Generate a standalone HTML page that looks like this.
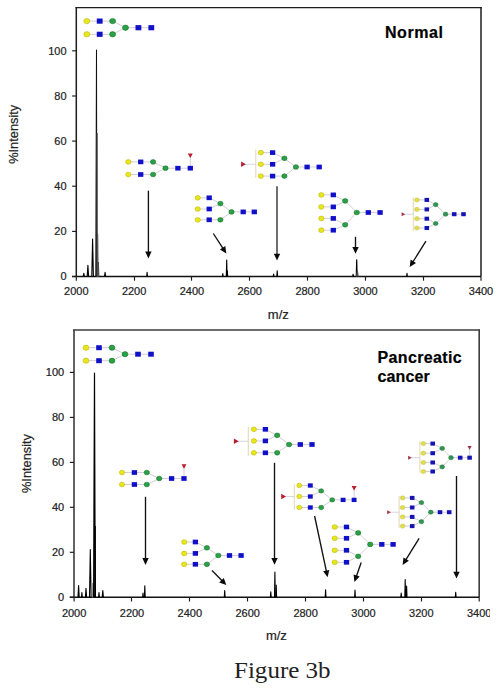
<!DOCTYPE html><html><head><meta charset="utf-8"><style>html,body{margin:0;padding:0;background:#fff;}svg{display:block;}text{font-family:"Liberation Sans", sans-serif;fill:#222;stroke:#222;stroke-width:0.2px;}</style></head><body>
<svg width="502" height="690" viewBox="0 0 502 690">
<rect width="502" height="690" fill="#fff"/>
<defs><clipPath id="clip3400"><rect x="0" y="0" width="490" height="690"/></clipPath></defs>
<line x1="76.3" y1="276.5" x2="76.3" y2="7.0" stroke="#1e1e1e" stroke-width="1.5"/>
<line x1="481.0" y1="276.5" x2="481.0" y2="7.0" stroke="#1e1e1e" stroke-width="1.5"/>
<line x1="75.55" y1="7.6" x2="481.75" y2="7.6" stroke="#1e1e1e" stroke-width="1.2"/>
<line x1="72.1" y1="276.5" x2="481.0" y2="276.5" stroke="#111" stroke-width="1.4"/>
<line x1="72.1" y1="276.5" x2="76.3" y2="276.5" stroke="#1c1c1c" stroke-width="1.15"/>
<text transform="translate(66.5,280.2) scale(1.1,1)" text-anchor="end" font-size="10">0</text>
<line x1="72.1" y1="231.4" x2="76.3" y2="231.4" stroke="#1c1c1c" stroke-width="1.15"/>
<text transform="translate(66.5,235.1) scale(1.1,1)" text-anchor="end" font-size="10">20</text>
<line x1="72.1" y1="186.2" x2="76.3" y2="186.2" stroke="#1c1c1c" stroke-width="1.15"/>
<text transform="translate(66.5,189.9) scale(1.1,1)" text-anchor="end" font-size="10">40</text>
<line x1="72.1" y1="141.1" x2="76.3" y2="141.1" stroke="#1c1c1c" stroke-width="1.15"/>
<text transform="translate(66.5,144.8) scale(1.1,1)" text-anchor="end" font-size="10">60</text>
<line x1="72.1" y1="96.0" x2="76.3" y2="96.0" stroke="#1c1c1c" stroke-width="1.15"/>
<text transform="translate(66.5,99.7) scale(1.1,1)" text-anchor="end" font-size="10">80</text>
<line x1="72.1" y1="50.8" x2="76.3" y2="50.8" stroke="#1c1c1c" stroke-width="1.15"/>
<text transform="translate(66.5,54.5) scale(1.1,1)" text-anchor="end" font-size="10">100</text>
<line x1="76.3" y1="276.5" x2="76.3" y2="280.7" stroke="#1c1c1c" stroke-width="1.15"/>
<text transform="translate(76.3,295.2) scale(1.1,1)" text-anchor="middle" font-size="10">2000</text>
<line x1="134.5" y1="276.5" x2="134.5" y2="280.7" stroke="#1c1c1c" stroke-width="1.15"/>
<text transform="translate(134.1,295.2) scale(1.1,1)" text-anchor="middle" font-size="10">2200</text>
<line x1="191.5" y1="276.5" x2="191.5" y2="280.7" stroke="#1c1c1c" stroke-width="1.15"/>
<text transform="translate(191.9,295.2) scale(1.1,1)" text-anchor="middle" font-size="10">2400</text>
<line x1="249.5" y1="276.5" x2="249.5" y2="280.7" stroke="#1c1c1c" stroke-width="1.15"/>
<text transform="translate(249.7,295.2) scale(1.1,1)" text-anchor="middle" font-size="10">2600</text>
<line x1="307.5" y1="276.5" x2="307.5" y2="280.7" stroke="#1c1c1c" stroke-width="1.15"/>
<text transform="translate(307.6,295.2) scale(1.1,1)" text-anchor="middle" font-size="10">2800</text>
<line x1="365.5" y1="276.5" x2="365.5" y2="280.7" stroke="#1c1c1c" stroke-width="1.15"/>
<text transform="translate(365.4,295.2) scale(1.1,1)" text-anchor="middle" font-size="10">3000</text>
<line x1="423.5" y1="276.5" x2="423.5" y2="280.7" stroke="#1c1c1c" stroke-width="1.15"/>
<text transform="translate(423.2,295.2) scale(1.1,1)" text-anchor="middle" font-size="10">3200</text>
<line x1="481.0" y1="276.5" x2="481.0" y2="280.7" stroke="#1c1c1c" stroke-width="1.15"/>
<text transform="translate(481.0,295.2) scale(1.1,1)" text-anchor="middle" font-size="10">3400</text>
<text x="267.8" y="319.0" font-size="13">m/z</text>
<text transform="translate(17.6,134.3) rotate(-90)" text-anchor="middle" font-size="12.8">%Intensity</text>
<text x="385" y="37.9" font-size="16" font-weight="bold" letter-spacing="0.55" style="fill:#000;stroke:#000">Normal</text>
<polygon points="96.4,276.3 96.6,233.8 98.3,233.8 98.9,276.3" fill="#808080"/>
<path d="M83.2,276.5 L83.8,273.3 L84.4,276.5" fill="none" stroke="#000" stroke-width="1.1" stroke-linejoin="round"/>
<path d="M87.2,276.5 L87.9,265.3 L88.6,276.5" fill="none" stroke="#000" stroke-width="1.1" stroke-linejoin="round"/>
<path d="M91.8,276.5 L92.6,239.0 L93.4,276.5" fill="none" stroke="#000" stroke-width="1.1" stroke-linejoin="round"/>
<path d="M95.8,276.5 L96.5,50.0 L96.8,276.5" fill="none" stroke="#111" stroke-width="1.05" stroke-linejoin="round"/>
<path d="M97.0,276.5 L97.2,133.0 L97.4,276.5" fill="none" stroke="#555" stroke-width="0.8" stroke-linejoin="round"/>
<path d="M97.9,276.5 L98.4,262.0 L98.9,276.5" fill="none" stroke="#444" stroke-width="0.9" stroke-linejoin="round"/>
<path d="M104.5,276.5 L105.1,272.3 L105.7,276.5" fill="none" stroke="#000" stroke-width="1.1" stroke-linejoin="round"/>
<path d="M146.7,276.5 L147.1,272.3 L147.5,276.5" fill="none" stroke="#000" stroke-width="1.1" stroke-linejoin="round"/>
<path d="M222.4,276.5 L222.8,273.6 L223.2,276.5" fill="none" stroke="#000" stroke-width="1.1" stroke-linejoin="round"/>
<path d="M226.3,276.5 L226.7,260.0 L227.1,276.5" fill="none" stroke="#000" stroke-width="1.1" stroke-linejoin="round"/>
<path d="M226.9,276.5 L227.3,270.8 L227.7,276.5" fill="none" stroke="#000" stroke-width="1.1" stroke-linejoin="round"/>
<path d="M273.2,276.5 L273.6,274.0 L274.0,276.5" fill="none" stroke="#000" stroke-width="1.1" stroke-linejoin="round"/>
<path d="M276.8,276.5 L277.2,270.8 L277.6,276.5" fill="none" stroke="#000" stroke-width="1.1" stroke-linejoin="round"/>
<path d="M352.7,276.5 L353.1,274.2 L353.5,276.5" fill="none" stroke="#000" stroke-width="1.1" stroke-linejoin="round"/>
<path d="M356.3,276.5 L356.7,259.8 L357.1,276.5" fill="none" stroke="#000" stroke-width="1.2" stroke-linejoin="round"/>
<path d="M356.6,276.5 L357.4,271.0 L358.2,276.5" fill="none" stroke="#555" stroke-width="1.2" stroke-linejoin="round"/>
<path d="M406.6,276.5 L407.0,273.4 L407.4,276.5" fill="none" stroke="#000" stroke-width="1.1" stroke-linejoin="round"/>
<line x1="86.8" y1="21.1" x2="99.7" y2="21.1" stroke="#c6bcc4" stroke-width="0.75"/>
<line x1="99.7" y1="21.1" x2="112.6" y2="21.1" stroke="#c6bcc4" stroke-width="0.75"/>
<line x1="86.8" y1="34.3" x2="99.7" y2="34.3" stroke="#c6bcc4" stroke-width="0.75"/>
<line x1="99.7" y1="34.3" x2="112.6" y2="34.3" stroke="#c6bcc4" stroke-width="0.75"/>
<line x1="112.6" y1="21.1" x2="125.5" y2="27.7" stroke="#c6bcc4" stroke-width="0.75"/>
<line x1="112.6" y1="34.3" x2="125.5" y2="27.7" stroke="#c6bcc4" stroke-width="0.75"/>
<line x1="125.5" y1="27.7" x2="138.4" y2="27.7" stroke="#c6bcc4" stroke-width="0.75"/>
<line x1="138.4" y1="27.7" x2="151.3" y2="27.7" stroke="#c6bcc4" stroke-width="0.75"/>

<ellipse cx="86.8" cy="21.1" rx="3.02" ry="2.68" fill="#e8e61e" stroke="#b8b000" stroke-width="0.5"/>
<ellipse cx="86.8" cy="34.3" rx="3.02" ry="2.68" fill="#e8e61e" stroke="#b8b000" stroke-width="0.5"/>
<rect x="96.78" y="18.52" width="5.83" height="5.17" fill="#1010c8"/>
<rect x="96.78" y="31.71" width="5.83" height="5.17" fill="#1010c8"/>
<ellipse cx="112.6" cy="21.1" rx="3.02" ry="2.68" fill="#2aa048" stroke="#107020" stroke-width="0.5"/>
<ellipse cx="112.6" cy="34.3" rx="3.02" ry="2.68" fill="#2aa048" stroke="#107020" stroke-width="0.5"/>
<ellipse cx="125.5" cy="27.7" rx="3.02" ry="2.68" fill="#2aa048" stroke="#107020" stroke-width="0.5"/>
<rect x="135.49" y="25.12" width="5.83" height="5.17" fill="#1010c8"/>
<rect x="148.39" y="25.12" width="5.83" height="5.17" fill="#1010c8"/>
<line x1="128.3" y1="161.9" x2="140.7" y2="161.9" stroke="#c6bcc4" stroke-width="0.75"/>
<line x1="140.7" y1="161.9" x2="153.1" y2="161.9" stroke="#c6bcc4" stroke-width="0.75"/>
<line x1="128.3" y1="174.5" x2="140.7" y2="174.5" stroke="#c6bcc4" stroke-width="0.75"/>
<line x1="140.7" y1="174.5" x2="153.1" y2="174.5" stroke="#c6bcc4" stroke-width="0.75"/>
<line x1="153.1" y1="161.9" x2="165.5" y2="168.2" stroke="#c6bcc4" stroke-width="0.75"/>
<line x1="153.1" y1="174.5" x2="165.5" y2="168.2" stroke="#c6bcc4" stroke-width="0.75"/>
<line x1="165.5" y1="168.2" x2="177.9" y2="168.2" stroke="#c6bcc4" stroke-width="0.75"/>
<line x1="177.9" y1="168.2" x2="190.3" y2="168.2" stroke="#c6bcc4" stroke-width="0.75"/>
<line x1="190.3" y1="168.2" x2="190.3" y2="155.6" stroke="#c6bcc4" stroke-width="0.75"/>

<ellipse cx="128.3" cy="161.9" rx="2.65" ry="2.35" fill="#e8e61e" stroke="#b8b000" stroke-width="0.5"/>
<ellipse cx="128.3" cy="174.5" rx="2.65" ry="2.35" fill="#e8e61e" stroke="#b8b000" stroke-width="0.5"/>
<rect x="138.05" y="159.55" width="5.30" height="4.70" fill="#1010c8"/>
<rect x="138.05" y="172.15" width="5.30" height="4.70" fill="#1010c8"/>
<ellipse cx="153.1" cy="161.9" rx="2.65" ry="2.35" fill="#2aa048" stroke="#107020" stroke-width="0.5"/>
<ellipse cx="153.1" cy="174.5" rx="2.65" ry="2.35" fill="#2aa048" stroke="#107020" stroke-width="0.5"/>
<ellipse cx="165.5" cy="168.2" rx="2.65" ry="2.35" fill="#2aa048" stroke="#107020" stroke-width="0.5"/>
<rect x="175.25" y="165.85" width="5.30" height="4.70" fill="#1010c8"/>
<rect x="187.65" y="165.85" width="5.30" height="4.70" fill="#1010c8"/>
<polygon points="187.8,153.4 192.8,153.4 190.3,157.9" fill="#bb1c2e"/>
<line x1="197.7" y1="197.8" x2="209.2" y2="197.8" stroke="#c6bcc4" stroke-width="0.75"/>
<line x1="197.7" y1="209.0" x2="209.2" y2="209.0" stroke="#c6bcc4" stroke-width="0.75"/>
<line x1="197.7" y1="219.8" x2="209.2" y2="219.8" stroke="#c6bcc4" stroke-width="0.75"/>
<line x1="209.2" y1="197.8" x2="220.4" y2="203.6" stroke="#c6bcc4" stroke-width="0.75"/>
<line x1="209.2" y1="209.0" x2="220.4" y2="203.6" stroke="#c6bcc4" stroke-width="0.75"/>
<line x1="209.2" y1="219.8" x2="220.4" y2="219.8" stroke="#c6bcc4" stroke-width="0.75"/>
<line x1="220.4" y1="203.6" x2="231.5" y2="211.9" stroke="#c6bcc4" stroke-width="0.75"/>
<line x1="220.4" y1="219.8" x2="231.5" y2="211.9" stroke="#c6bcc4" stroke-width="0.75"/>
<line x1="231.5" y1="211.9" x2="243.2" y2="211.9" stroke="#c6bcc4" stroke-width="0.75"/>
<line x1="243.2" y1="211.9" x2="254.3" y2="211.9" stroke="#c6bcc4" stroke-width="0.75"/>

<ellipse cx="197.7" cy="197.8" rx="2.65" ry="2.35" fill="#e8e61e" stroke="#b8b000" stroke-width="0.5"/>
<rect x="206.55" y="195.45" width="5.30" height="4.70" fill="#1010c8"/>
<ellipse cx="197.7" cy="209.0" rx="2.65" ry="2.35" fill="#e8e61e" stroke="#b8b000" stroke-width="0.5"/>
<rect x="206.55" y="206.65" width="5.30" height="4.70" fill="#1010c8"/>
<ellipse cx="197.7" cy="219.8" rx="2.65" ry="2.35" fill="#e8e61e" stroke="#b8b000" stroke-width="0.5"/>
<rect x="206.55" y="217.45" width="5.30" height="4.70" fill="#1010c8"/>
<ellipse cx="220.4" cy="203.6" rx="2.65" ry="2.35" fill="#2aa048" stroke="#107020" stroke-width="0.5"/>
<ellipse cx="220.4" cy="219.8" rx="2.65" ry="2.35" fill="#2aa048" stroke="#107020" stroke-width="0.5"/>
<ellipse cx="231.5" cy="211.9" rx="2.65" ry="2.35" fill="#2aa048" stroke="#107020" stroke-width="0.5"/>
<rect x="240.55" y="209.55" width="5.30" height="4.70" fill="#1010c8"/>
<rect x="251.65" y="209.55" width="5.30" height="4.70" fill="#1010c8"/>
<line x1="260.8" y1="152.6" x2="272.6" y2="152.6" stroke="#c6bcc4" stroke-width="0.75"/>
<line x1="260.8" y1="164.3" x2="272.6" y2="164.3" stroke="#c6bcc4" stroke-width="0.75"/>
<line x1="260.8" y1="176.1" x2="272.6" y2="176.1" stroke="#c6bcc4" stroke-width="0.75"/>
<line x1="272.6" y1="152.6" x2="284.4" y2="158.3" stroke="#c6bcc4" stroke-width="0.75"/>
<line x1="272.6" y1="164.3" x2="284.4" y2="158.3" stroke="#c6bcc4" stroke-width="0.75"/>
<line x1="272.6" y1="176.1" x2="284.4" y2="176.1" stroke="#c6bcc4" stroke-width="0.75"/>
<line x1="284.4" y1="158.3" x2="295.9" y2="167.0" stroke="#c6bcc4" stroke-width="0.75"/>
<line x1="284.4" y1="176.1" x2="295.9" y2="167.0" stroke="#c6bcc4" stroke-width="0.75"/>
<line x1="295.9" y1="167.0" x2="307.1" y2="167.0" stroke="#c6bcc4" stroke-width="0.75"/>
<line x1="307.1" y1="167.0" x2="319.2" y2="167.0" stroke="#c6bcc4" stroke-width="0.75"/>
<line x1="255.8" y1="149.7" x2="255.8" y2="178.1" stroke="#d4c498" stroke-width="0.7"/><line x1="243.5" y1="164.3" x2="255.8" y2="164.3" stroke="#c4c4dc" stroke-width="0.7"/>
<ellipse cx="260.8" cy="152.6" rx="2.65" ry="2.35" fill="#e8e61e" stroke="#b8b000" stroke-width="0.5"/>
<rect x="269.95" y="150.25" width="5.30" height="4.70" fill="#1010c8"/>
<ellipse cx="260.8" cy="164.3" rx="2.65" ry="2.35" fill="#e8e61e" stroke="#b8b000" stroke-width="0.5"/>
<rect x="269.95" y="161.95" width="5.30" height="4.70" fill="#1010c8"/>
<ellipse cx="260.8" cy="176.1" rx="2.65" ry="2.35" fill="#e8e61e" stroke="#b8b000" stroke-width="0.5"/>
<rect x="269.95" y="173.75" width="5.30" height="4.70" fill="#1010c8"/>
<ellipse cx="284.4" cy="158.3" rx="2.65" ry="2.35" fill="#2aa048" stroke="#107020" stroke-width="0.5"/>
<ellipse cx="284.4" cy="176.1" rx="2.65" ry="2.35" fill="#2aa048" stroke="#107020" stroke-width="0.5"/>
<ellipse cx="295.9" cy="167.0" rx="2.65" ry="2.35" fill="#2aa048" stroke="#107020" stroke-width="0.5"/>
<rect x="304.45" y="164.65" width="5.30" height="4.70" fill="#1010c8"/>
<rect x="316.55" y="164.65" width="5.30" height="4.70" fill="#1010c8"/>
<polygon points="241.1,161.6 241.1,167.0 245.9,164.3" fill="#bb1c2e"/>
<line x1="321.3" y1="194.9" x2="333.3" y2="194.9" stroke="#c6bcc4" stroke-width="0.75"/>
<line x1="321.3" y1="206.9" x2="333.3" y2="206.9" stroke="#c6bcc4" stroke-width="0.75"/>
<line x1="321.3" y1="218.4" x2="333.3" y2="218.4" stroke="#c6bcc4" stroke-width="0.75"/>
<line x1="321.3" y1="230.2" x2="333.3" y2="230.2" stroke="#c6bcc4" stroke-width="0.75"/>
<line x1="333.3" y1="194.9" x2="345.2" y2="200.9" stroke="#c6bcc4" stroke-width="0.75"/>
<line x1="333.3" y1="206.9" x2="345.2" y2="200.9" stroke="#c6bcc4" stroke-width="0.75"/>
<line x1="333.3" y1="218.4" x2="345.2" y2="224.8" stroke="#c6bcc4" stroke-width="0.75"/>
<line x1="333.3" y1="230.2" x2="345.2" y2="224.8" stroke="#c6bcc4" stroke-width="0.75"/>
<line x1="345.2" y1="200.9" x2="356.8" y2="212.5" stroke="#c6bcc4" stroke-width="0.75"/>
<line x1="345.2" y1="224.8" x2="356.8" y2="212.5" stroke="#c6bcc4" stroke-width="0.75"/>
<line x1="356.8" y1="212.5" x2="368.3" y2="212.5" stroke="#c6bcc4" stroke-width="0.75"/>
<line x1="368.3" y1="212.5" x2="380.1" y2="212.5" stroke="#c6bcc4" stroke-width="0.75"/>

<ellipse cx="321.3" cy="194.9" rx="2.65" ry="2.35" fill="#e8e61e" stroke="#b8b000" stroke-width="0.5"/>
<rect x="330.65" y="192.55" width="5.30" height="4.70" fill="#1010c8"/>
<ellipse cx="321.3" cy="206.9" rx="2.65" ry="2.35" fill="#e8e61e" stroke="#b8b000" stroke-width="0.5"/>
<rect x="330.65" y="204.55" width="5.30" height="4.70" fill="#1010c8"/>
<ellipse cx="321.3" cy="218.4" rx="2.65" ry="2.35" fill="#e8e61e" stroke="#b8b000" stroke-width="0.5"/>
<rect x="330.65" y="216.05" width="5.30" height="4.70" fill="#1010c8"/>
<ellipse cx="321.3" cy="230.2" rx="2.65" ry="2.35" fill="#e8e61e" stroke="#b8b000" stroke-width="0.5"/>
<rect x="330.65" y="227.85" width="5.30" height="4.70" fill="#1010c8"/>
<ellipse cx="345.2" cy="200.9" rx="2.65" ry="2.35" fill="#2aa048" stroke="#107020" stroke-width="0.5"/>
<ellipse cx="345.2" cy="224.8" rx="2.65" ry="2.35" fill="#2aa048" stroke="#107020" stroke-width="0.5"/>
<ellipse cx="356.8" cy="212.5" rx="2.65" ry="2.35" fill="#2aa048" stroke="#107020" stroke-width="0.5"/>
<rect x="365.65" y="210.15" width="5.30" height="4.70" fill="#1010c8"/>
<rect x="377.45" y="210.15" width="5.30" height="4.70" fill="#1010c8"/>
<line x1="416.9" y1="199.9" x2="426.8" y2="199.9" stroke="#c6bcc4" stroke-width="0.75"/>
<line x1="416.9" y1="209.4" x2="426.8" y2="209.4" stroke="#c6bcc4" stroke-width="0.75"/>
<line x1="416.9" y1="218.7" x2="426.8" y2="218.7" stroke="#c6bcc4" stroke-width="0.75"/>
<line x1="416.9" y1="228.0" x2="426.8" y2="228.0" stroke="#c6bcc4" stroke-width="0.75"/>
<line x1="426.8" y1="199.9" x2="435.7" y2="204.7" stroke="#c6bcc4" stroke-width="0.75"/>
<line x1="426.8" y1="209.4" x2="435.7" y2="204.7" stroke="#c6bcc4" stroke-width="0.75"/>
<line x1="426.8" y1="218.7" x2="435.7" y2="223.5" stroke="#c6bcc4" stroke-width="0.75"/>
<line x1="426.8" y1="228.0" x2="435.7" y2="223.5" stroke="#c6bcc4" stroke-width="0.75"/>
<line x1="435.7" y1="204.7" x2="445.6" y2="214.2" stroke="#c6bcc4" stroke-width="0.75"/>
<line x1="435.7" y1="223.5" x2="445.6" y2="214.2" stroke="#c6bcc4" stroke-width="0.75"/>
<line x1="445.6" y1="214.2" x2="454.2" y2="214.2" stroke="#c6bcc4" stroke-width="0.75"/>
<line x1="454.2" y1="214.2" x2="463.5" y2="214.2" stroke="#c6bcc4" stroke-width="0.75"/>
<line x1="413.3" y1="198" x2="413.3" y2="230.9" stroke="#d4c498" stroke-width="0.7"/><line x1="403.4" y1="214.2" x2="413.3" y2="214.2" stroke="#c4c4dc" stroke-width="0.7"/>
<ellipse cx="416.9" cy="199.9" rx="2.39" ry="2.11" fill="#dede52" stroke="#c8c040" stroke-width="0.5"/>
<rect x="424.52" y="197.88" width="4.56" height="4.04" fill="#1414b4"/>
<ellipse cx="416.9" cy="209.4" rx="2.39" ry="2.11" fill="#dede52" stroke="#c8c040" stroke-width="0.5"/>
<rect x="424.52" y="207.38" width="4.56" height="4.04" fill="#1414b4"/>
<ellipse cx="416.9" cy="218.7" rx="2.39" ry="2.11" fill="#dede52" stroke="#c8c040" stroke-width="0.5"/>
<rect x="424.52" y="216.68" width="4.56" height="4.04" fill="#1414b4"/>
<ellipse cx="416.9" cy="228.0" rx="2.39" ry="2.11" fill="#dede52" stroke="#c8c040" stroke-width="0.5"/>
<rect x="424.52" y="225.98" width="4.56" height="4.04" fill="#1414b4"/>
<ellipse cx="435.7" cy="204.7" rx="2.39" ry="2.11" fill="#339455" stroke="#207a3a" stroke-width="0.5"/>
<ellipse cx="435.7" cy="223.5" rx="2.39" ry="2.11" fill="#339455" stroke="#207a3a" stroke-width="0.5"/>
<ellipse cx="445.6" cy="214.2" rx="2.39" ry="2.11" fill="#339455" stroke="#207a3a" stroke-width="0.5"/>
<rect x="451.92" y="212.18" width="4.56" height="4.04" fill="#1414b4"/>
<rect x="461.22" y="212.18" width="4.56" height="4.04" fill="#1414b4"/>
<polygon points="401.6,212.2 401.6,216.2 405.2,214.2" fill="#a83040"/>
<line x1="148.4" y1="190.7" x2="148.4" y2="252.4" stroke="#111" stroke-width="1.35"/><polygon points="148.4,258.4 145.2,251.6 151.6,251.6" fill="#0a0a0a"/>
<line x1="213.3" y1="233.5" x2="223.0" y2="248.4" stroke="#111" stroke-width="1.35"/><polygon points="226.3,253.4 219.9,249.5 225.3,246.0" fill="#0a0a0a"/>
<line x1="277.0" y1="186.2" x2="277.0" y2="254.5" stroke="#6e6e6e" stroke-width="2.0"/><polygon points="277.0,260.5 273.8,253.7 280.2,253.7" fill="#0a0a0a"/>
<line x1="355.5" y1="236.8" x2="355.5" y2="247.8" stroke="#111" stroke-width="1.35"/><polygon points="355.5,253.8 352.3,247.0 358.7,247.0" fill="#0a0a0a"/>
<line x1="425.9" y1="241.1" x2="412.9" y2="262.0" stroke="#111" stroke-width="1.35"/><polygon points="409.7,267.1 410.6,259.6 416.0,263.0" fill="#0a0a0a"/>
<line x1="74.0" y1="597.3" x2="74.0" y2="329.4" stroke="#3c3c3c" stroke-width="1.6"/>
<line x1="479.2" y1="597.3" x2="479.2" y2="329.4" stroke="#3c3c3c" stroke-width="1.6"/>
<line x1="73.2" y1="330.0" x2="480.0" y2="330.0" stroke="#3c3c3c" stroke-width="1.4"/>
<line x1="69.8" y1="597.3" x2="479.2" y2="597.3" stroke="#111" stroke-width="1.4"/>
<line x1="69.8" y1="597.3" x2="74.0" y2="597.3" stroke="#1c1c1c" stroke-width="1.15"/>
<text transform="translate(64.2,601.0) scale(1.1,1)" text-anchor="end" font-size="10">0</text>
<line x1="69.8" y1="552.3" x2="74.0" y2="552.3" stroke="#1c1c1c" stroke-width="1.15"/>
<text transform="translate(64.2,556.0) scale(1.1,1)" text-anchor="end" font-size="10">20</text>
<line x1="69.8" y1="507.3" x2="74.0" y2="507.3" stroke="#1c1c1c" stroke-width="1.15"/>
<text transform="translate(64.2,511.0) scale(1.1,1)" text-anchor="end" font-size="10">40</text>
<line x1="69.8" y1="462.4" x2="74.0" y2="462.4" stroke="#1c1c1c" stroke-width="1.15"/>
<text transform="translate(64.2,466.1) scale(1.1,1)" text-anchor="end" font-size="10">60</text>
<line x1="69.8" y1="417.4" x2="74.0" y2="417.4" stroke="#1c1c1c" stroke-width="1.15"/>
<text transform="translate(64.2,421.1) scale(1.1,1)" text-anchor="end" font-size="10">80</text>
<line x1="69.8" y1="372.4" x2="74.0" y2="372.4" stroke="#1c1c1c" stroke-width="1.15"/>
<text transform="translate(64.2,376.1) scale(1.1,1)" text-anchor="end" font-size="10">100</text>
<line x1="74.1" y1="597.3" x2="74.1" y2="601.5" stroke="#1c1c1c" stroke-width="1.15"/>
<text transform="translate(74.1,616.5) scale(1.1,1)" text-anchor="middle" font-size="10">2000</text>
<line x1="131.5" y1="597.3" x2="131.5" y2="601.5" stroke="#1c1c1c" stroke-width="1.15"/>
<text transform="translate(132.0,616.5) scale(1.1,1)" text-anchor="middle" font-size="10">2200</text>
<line x1="189.5" y1="597.3" x2="189.5" y2="601.5" stroke="#1c1c1c" stroke-width="1.15"/>
<text transform="translate(189.8,616.5) scale(1.1,1)" text-anchor="middle" font-size="10">2400</text>
<line x1="247.5" y1="597.3" x2="247.5" y2="601.5" stroke="#1c1c1c" stroke-width="1.15"/>
<text transform="translate(247.7,616.5) scale(1.1,1)" text-anchor="middle" font-size="10">2600</text>
<line x1="305.5" y1="597.3" x2="305.5" y2="601.5" stroke="#1c1c1c" stroke-width="1.15"/>
<text transform="translate(305.6,616.5) scale(1.1,1)" text-anchor="middle" font-size="10">2800</text>
<line x1="363.5" y1="597.3" x2="363.5" y2="601.5" stroke="#1c1c1c" stroke-width="1.15"/>
<text transform="translate(363.5,616.5) scale(1.1,1)" text-anchor="middle" font-size="10">3000</text>
<line x1="421.5" y1="597.3" x2="421.5" y2="601.5" stroke="#1c1c1c" stroke-width="1.15"/>
<text transform="translate(421.3,616.5) scale(1.1,1)" text-anchor="middle" font-size="10">3200</text>
<line x1="479.2" y1="597.3" x2="479.2" y2="601.5" stroke="#1c1c1c" stroke-width="1.15"/>
<g clip-path="url(#clip3400)"><text transform="translate(479.2,616.5) scale(1.1,1)" text-anchor="middle" font-size="10">3400</text></g>
<text x="265.9" y="640.0" font-size="13">m/z</text>
<text transform="translate(31.4,463.5) rotate(-90)" text-anchor="middle" font-size="12.8">%Intensity</text>
<text x="377.6" y="362.5" font-size="16" font-weight="bold" letter-spacing="0.35" style="fill:#000;stroke:#000">Pancreatic</text>
<text x="377.6" y="382.4" font-size="16" font-weight="bold" letter-spacing="0.1" style="fill:#000;stroke:#000">cancer</text>
<path d="M78.0,597.3 L78.6,585.5 L79.2,597.3" fill="none" stroke="#000" stroke-width="1.1" stroke-linejoin="round"/>
<path d="M81.5,597.3 L81.9,592.5 L82.3,597.3" fill="none" stroke="#000" stroke-width="1.1" stroke-linejoin="round"/>
<path d="M85.4,597.3 L86.0,588.4 L86.6,597.3" fill="none" stroke="#000" stroke-width="1.1" stroke-linejoin="round"/>
<path d="M89.5,597.3 L90.3,549.5 L91.1,597.3" fill="none" stroke="#000" stroke-width="1.1" stroke-linejoin="round"/>
<path d="M92.4,597.3 L92.9,583.0 L93.4,597.3" fill="none" stroke="#888" stroke-width="0.9" stroke-linejoin="round"/>
<path d="M93.6,597.3 L94.5,373.0 L95.2,597.3" fill="none" stroke="#000" stroke-width="1.2" stroke-linejoin="round"/>
<path d="M94.7,597.3 L95.1,526.0 L95.5,597.3" fill="none" stroke="#000" stroke-width="1.0" stroke-linejoin="round"/>
<path d="M98.6,597.3 L99.0,592.5 L99.4,597.3" fill="none" stroke="#000" stroke-width="1.1" stroke-linejoin="round"/>
<path d="M102.2,597.3 L102.8,590.6 L103.4,597.3" fill="none" stroke="#000" stroke-width="1.1" stroke-linejoin="round"/>
<path d="M142.6,597.3 L143.0,593.0 L143.4,597.3" fill="none" stroke="#000" stroke-width="1.1" stroke-linejoin="round"/>
<path d="M144.4,597.3 L144.8,585.7 L145.2,597.3" fill="none" stroke="#000" stroke-width="1.1" stroke-linejoin="round"/>
<path d="M224.3,597.3 L224.7,590.6 L225.1,597.3" fill="none" stroke="#000" stroke-width="1.1" stroke-linejoin="round"/>
<path d="M270.4,597.3 L270.8,591.8 L271.2,597.3" fill="none" stroke="#000" stroke-width="1.1" stroke-linejoin="round"/>
<path d="M274.5,597.3 L274.9,572.0 L275.3,597.3" fill="none" stroke="#000" stroke-width="1.1" stroke-linejoin="round"/>
<path d="M275.8,597.3 L276.2,585.0 L276.6,597.3" fill="none" stroke="#000" stroke-width="1.1" stroke-linejoin="round"/>
<path d="M325.2,597.3 L325.6,589.8 L326.0,597.3" fill="none" stroke="#000" stroke-width="1.1" stroke-linejoin="round"/>
<path d="M354.6,597.3 L355.0,590.1 L355.4,597.3" fill="none" stroke="#000" stroke-width="1.1" stroke-linejoin="round"/>
<path d="M400.8,597.3 L401.2,593.0 L401.6,597.3" fill="none" stroke="#000" stroke-width="1.1" stroke-linejoin="round"/>
<path d="M404.8,597.3 L405.2,579.5 L405.6,597.3" fill="none" stroke="#000" stroke-width="1.1" stroke-linejoin="round"/>
<path d="M406.2,597.3 L406.6,586.0 L407.0,597.3" fill="none" stroke="#000" stroke-width="1.1" stroke-linejoin="round"/>
<path d="M455.3,597.3 L455.7,592.2 L456.1,597.3" fill="none" stroke="#000" stroke-width="1.1" stroke-linejoin="round"/>
<line x1="86.0" y1="347.7" x2="99.0" y2="347.7" stroke="#c6bcc4" stroke-width="0.75"/>
<line x1="99.0" y1="347.7" x2="112.0" y2="347.7" stroke="#c6bcc4" stroke-width="0.75"/>
<line x1="86.0" y1="360.7" x2="99.0" y2="360.7" stroke="#c6bcc4" stroke-width="0.75"/>
<line x1="99.0" y1="360.7" x2="112.0" y2="360.7" stroke="#c6bcc4" stroke-width="0.75"/>
<line x1="112.0" y1="347.7" x2="125.0" y2="354.2" stroke="#c6bcc4" stroke-width="0.75"/>
<line x1="112.0" y1="360.7" x2="125.0" y2="354.2" stroke="#c6bcc4" stroke-width="0.75"/>
<line x1="125.0" y1="354.2" x2="138.0" y2="354.2" stroke="#c6bcc4" stroke-width="0.75"/>
<line x1="138.0" y1="354.2" x2="151.0" y2="354.2" stroke="#c6bcc4" stroke-width="0.75"/>

<ellipse cx="86.0" cy="347.7" rx="2.92" ry="2.58" fill="#e8e61e" stroke="#b8b000" stroke-width="0.5"/>
<ellipse cx="86.0" cy="360.7" rx="2.92" ry="2.58" fill="#e8e61e" stroke="#b8b000" stroke-width="0.5"/>
<rect x="96.19" y="345.21" width="5.62" height="4.98" fill="#1010c8"/>
<rect x="96.19" y="358.21" width="5.62" height="4.98" fill="#1010c8"/>
<ellipse cx="112.0" cy="347.7" rx="2.92" ry="2.58" fill="#2aa048" stroke="#107020" stroke-width="0.5"/>
<ellipse cx="112.0" cy="360.7" rx="2.92" ry="2.58" fill="#2aa048" stroke="#107020" stroke-width="0.5"/>
<ellipse cx="125.0" cy="354.2" rx="2.92" ry="2.58" fill="#2aa048" stroke="#107020" stroke-width="0.5"/>
<rect x="135.19" y="351.71" width="5.62" height="4.98" fill="#1010c8"/>
<rect x="148.19" y="351.71" width="5.62" height="4.98" fill="#1010c8"/>
<line x1="122.0" y1="472.5" x2="134.4" y2="472.5" stroke="#c6bcc4" stroke-width="0.75"/>
<line x1="134.4" y1="472.5" x2="146.8" y2="472.5" stroke="#c6bcc4" stroke-width="0.75"/>
<line x1="122.0" y1="484.5" x2="134.4" y2="484.5" stroke="#c6bcc4" stroke-width="0.75"/>
<line x1="134.4" y1="484.5" x2="146.8" y2="484.5" stroke="#c6bcc4" stroke-width="0.75"/>
<line x1="146.8" y1="472.5" x2="159.2" y2="478.5" stroke="#c6bcc4" stroke-width="0.75"/>
<line x1="146.8" y1="484.5" x2="159.2" y2="478.5" stroke="#c6bcc4" stroke-width="0.75"/>
<line x1="159.2" y1="478.5" x2="171.6" y2="478.5" stroke="#c6bcc4" stroke-width="0.75"/>
<line x1="171.6" y1="478.5" x2="184.0" y2="478.5" stroke="#c6bcc4" stroke-width="0.75"/>
<line x1="184.0" y1="478.5" x2="184.0" y2="466.5" stroke="#c6bcc4" stroke-width="0.75"/>

<ellipse cx="122.0" cy="472.5" rx="2.65" ry="2.35" fill="#e8e61e" stroke="#b8b000" stroke-width="0.5"/>
<ellipse cx="122.0" cy="484.5" rx="2.65" ry="2.35" fill="#e8e61e" stroke="#b8b000" stroke-width="0.5"/>
<rect x="131.75" y="470.15" width="5.30" height="4.70" fill="#1010c8"/>
<rect x="131.75" y="482.15" width="5.30" height="4.70" fill="#1010c8"/>
<ellipse cx="146.8" cy="472.5" rx="2.65" ry="2.35" fill="#2aa048" stroke="#107020" stroke-width="0.5"/>
<ellipse cx="146.8" cy="484.5" rx="2.65" ry="2.35" fill="#2aa048" stroke="#107020" stroke-width="0.5"/>
<ellipse cx="159.2" cy="478.5" rx="2.65" ry="2.35" fill="#2aa048" stroke="#107020" stroke-width="0.5"/>
<rect x="168.95" y="476.15" width="5.30" height="4.70" fill="#1010c8"/>
<rect x="181.35" y="476.15" width="5.30" height="4.70" fill="#1010c8"/>
<polygon points="181.5,464.2 186.5,464.2 184.0,468.8" fill="#bb1c2e"/>
<line x1="184.2" y1="542.0" x2="195.4" y2="542.0" stroke="#c6bcc4" stroke-width="0.75"/>
<line x1="184.2" y1="553.4" x2="195.4" y2="553.4" stroke="#c6bcc4" stroke-width="0.75"/>
<line x1="184.2" y1="564.3" x2="195.4" y2="564.3" stroke="#c6bcc4" stroke-width="0.75"/>
<line x1="195.4" y1="542.0" x2="206.9" y2="547.8" stroke="#c6bcc4" stroke-width="0.75"/>
<line x1="195.4" y1="553.4" x2="206.9" y2="547.8" stroke="#c6bcc4" stroke-width="0.75"/>
<line x1="195.4" y1="564.3" x2="206.9" y2="564.3" stroke="#c6bcc4" stroke-width="0.75"/>
<line x1="206.9" y1="547.8" x2="218.3" y2="555.5" stroke="#c6bcc4" stroke-width="0.75"/>
<line x1="206.9" y1="564.3" x2="218.3" y2="555.5" stroke="#c6bcc4" stroke-width="0.75"/>
<line x1="218.3" y1="555.5" x2="229.5" y2="555.5" stroke="#c6bcc4" stroke-width="0.75"/>
<line x1="229.5" y1="555.5" x2="241.1" y2="555.5" stroke="#c6bcc4" stroke-width="0.75"/>

<ellipse cx="184.2" cy="542.0" rx="2.65" ry="2.35" fill="#e8e61e" stroke="#b8b000" stroke-width="0.5"/>
<rect x="192.75" y="539.65" width="5.30" height="4.70" fill="#1010c8"/>
<ellipse cx="184.2" cy="553.4" rx="2.65" ry="2.35" fill="#e8e61e" stroke="#b8b000" stroke-width="0.5"/>
<rect x="192.75" y="551.05" width="5.30" height="4.70" fill="#1010c8"/>
<ellipse cx="184.2" cy="564.3" rx="2.65" ry="2.35" fill="#e8e61e" stroke="#b8b000" stroke-width="0.5"/>
<rect x="192.75" y="561.95" width="5.30" height="4.70" fill="#1010c8"/>
<ellipse cx="206.9" cy="547.8" rx="2.65" ry="2.35" fill="#2aa048" stroke="#107020" stroke-width="0.5"/>
<ellipse cx="206.9" cy="564.3" rx="2.65" ry="2.35" fill="#2aa048" stroke="#107020" stroke-width="0.5"/>
<ellipse cx="218.3" cy="555.5" rx="2.65" ry="2.35" fill="#2aa048" stroke="#107020" stroke-width="0.5"/>
<rect x="226.85" y="553.15" width="5.30" height="4.70" fill="#1010c8"/>
<rect x="238.45" y="553.15" width="5.30" height="4.70" fill="#1010c8"/>
<line x1="253.9" y1="429.3" x2="265.4" y2="429.3" stroke="#c6bcc4" stroke-width="0.75"/>
<line x1="253.9" y1="440.9" x2="265.4" y2="440.9" stroke="#c6bcc4" stroke-width="0.75"/>
<line x1="253.9" y1="452.8" x2="265.4" y2="452.8" stroke="#c6bcc4" stroke-width="0.75"/>
<line x1="265.4" y1="429.3" x2="277.2" y2="435.3" stroke="#c6bcc4" stroke-width="0.75"/>
<line x1="265.4" y1="440.9" x2="277.2" y2="435.3" stroke="#c6bcc4" stroke-width="0.75"/>
<line x1="265.4" y1="452.8" x2="277.2" y2="452.8" stroke="#c6bcc4" stroke-width="0.75"/>
<line x1="277.2" y1="435.3" x2="289.1" y2="444.5" stroke="#c6bcc4" stroke-width="0.75"/>
<line x1="277.2" y1="452.8" x2="289.1" y2="444.5" stroke="#c6bcc4" stroke-width="0.75"/>
<line x1="289.1" y1="444.5" x2="300.3" y2="444.5" stroke="#c6bcc4" stroke-width="0.75"/>
<line x1="300.3" y1="444.5" x2="312.0" y2="444.5" stroke="#c6bcc4" stroke-width="0.75"/>
<line x1="248.3" y1="427" x2="248.3" y2="455.8" stroke="#d4c498" stroke-width="0.7"/><line x1="236.3" y1="441.3" x2="248.3" y2="441.3" stroke="#c4c4dc" stroke-width="0.7"/>
<ellipse cx="253.9" cy="429.3" rx="2.65" ry="2.35" fill="#e8e61e" stroke="#b8b000" stroke-width="0.5"/>
<rect x="262.75" y="426.95" width="5.30" height="4.70" fill="#1010c8"/>
<ellipse cx="253.9" cy="440.9" rx="2.65" ry="2.35" fill="#e8e61e" stroke="#b8b000" stroke-width="0.5"/>
<rect x="262.75" y="438.55" width="5.30" height="4.70" fill="#1010c8"/>
<ellipse cx="253.9" cy="452.8" rx="2.65" ry="2.35" fill="#e8e61e" stroke="#b8b000" stroke-width="0.5"/>
<rect x="262.75" y="450.45" width="5.30" height="4.70" fill="#1010c8"/>
<ellipse cx="277.2" cy="435.3" rx="2.65" ry="2.35" fill="#2aa048" stroke="#107020" stroke-width="0.5"/>
<ellipse cx="277.2" cy="452.8" rx="2.65" ry="2.35" fill="#2aa048" stroke="#107020" stroke-width="0.5"/>
<ellipse cx="289.1" cy="444.5" rx="2.65" ry="2.35" fill="#2aa048" stroke="#107020" stroke-width="0.5"/>
<rect x="297.65" y="442.15" width="5.30" height="4.70" fill="#1010c8"/>
<rect x="309.35" y="442.15" width="5.30" height="4.70" fill="#1010c8"/>
<polygon points="233.9,438.6 233.9,444.0 238.7,441.3" fill="#bb1c2e"/>
<line x1="299.3" y1="485.5" x2="310.3" y2="485.5" stroke="#c6bcc4" stroke-width="0.75"/>
<line x1="299.3" y1="496.5" x2="310.3" y2="496.5" stroke="#c6bcc4" stroke-width="0.75"/>
<line x1="299.3" y1="507.5" x2="310.3" y2="507.5" stroke="#c6bcc4" stroke-width="0.75"/>
<line x1="310.3" y1="485.5" x2="321.2" y2="490.9" stroke="#c6bcc4" stroke-width="0.75"/>
<line x1="310.3" y1="496.5" x2="321.2" y2="490.9" stroke="#c6bcc4" stroke-width="0.75"/>
<line x1="310.3" y1="507.5" x2="321.2" y2="507.5" stroke="#c6bcc4" stroke-width="0.75"/>
<line x1="321.2" y1="490.9" x2="332.2" y2="499.9" stroke="#c6bcc4" stroke-width="0.75"/>
<line x1="321.2" y1="507.5" x2="332.2" y2="499.9" stroke="#c6bcc4" stroke-width="0.75"/>
<line x1="332.2" y1="499.9" x2="343.1" y2="499.9" stroke="#c6bcc4" stroke-width="0.75"/>
<line x1="343.1" y1="499.9" x2="354.1" y2="499.9" stroke="#c6bcc4" stroke-width="0.75"/>
<line x1="354.1" y1="499.9" x2="354.1" y2="488.3" stroke="#c6bcc4" stroke-width="0.75"/>
<line x1="294.3" y1="484" x2="294.3" y2="509.8" stroke="#d4c498" stroke-width="0.7"/><line x1="283.6" y1="496.5" x2="294.3" y2="496.5" stroke="#c4c4dc" stroke-width="0.7"/>
<ellipse cx="299.3" cy="485.5" rx="2.49" ry="2.21" fill="#e8e61e" stroke="#b8b000" stroke-width="0.5"/>
<rect x="307.86" y="483.34" width="4.88" height="4.32" fill="#1010c8"/>
<ellipse cx="299.3" cy="496.5" rx="2.49" ry="2.21" fill="#e8e61e" stroke="#b8b000" stroke-width="0.5"/>
<rect x="307.86" y="494.34" width="4.88" height="4.32" fill="#1010c8"/>
<ellipse cx="299.3" cy="507.5" rx="2.49" ry="2.21" fill="#e8e61e" stroke="#b8b000" stroke-width="0.5"/>
<rect x="307.86" y="505.34" width="4.88" height="4.32" fill="#1010c8"/>
<ellipse cx="321.2" cy="490.9" rx="2.49" ry="2.21" fill="#2aa048" stroke="#107020" stroke-width="0.5"/>
<ellipse cx="321.2" cy="507.5" rx="2.49" ry="2.21" fill="#2aa048" stroke="#107020" stroke-width="0.5"/>
<ellipse cx="332.2" cy="499.9" rx="2.49" ry="2.21" fill="#2aa048" stroke="#107020" stroke-width="0.5"/>
<rect x="340.66" y="497.74" width="4.88" height="4.32" fill="#1010c8"/>
<rect x="351.66" y="497.74" width="4.88" height="4.32" fill="#1010c8"/>
<polygon points="281.2,493.8 281.2,499.2 286.0,496.5" fill="#bb1c2e"/>
<polygon points="351.6,486.1 356.6,486.1 354.1,490.6" fill="#bb1c2e"/>
<line x1="334.7" y1="527.0" x2="346.5" y2="527.0" stroke="#c6bcc4" stroke-width="0.75"/>
<line x1="334.7" y1="538.3" x2="346.5" y2="538.3" stroke="#c6bcc4" stroke-width="0.75"/>
<line x1="334.7" y1="550.3" x2="346.5" y2="550.3" stroke="#c6bcc4" stroke-width="0.75"/>
<line x1="334.7" y1="562.3" x2="346.5" y2="562.3" stroke="#c6bcc4" stroke-width="0.75"/>
<line x1="346.5" y1="527.0" x2="358.2" y2="532.9" stroke="#c6bcc4" stroke-width="0.75"/>
<line x1="346.5" y1="538.3" x2="358.2" y2="532.9" stroke="#c6bcc4" stroke-width="0.75"/>
<line x1="346.5" y1="550.3" x2="358.2" y2="556.3" stroke="#c6bcc4" stroke-width="0.75"/>
<line x1="346.5" y1="562.3" x2="358.2" y2="556.3" stroke="#c6bcc4" stroke-width="0.75"/>
<line x1="358.2" y1="532.9" x2="370.2" y2="544.4" stroke="#c6bcc4" stroke-width="0.75"/>
<line x1="358.2" y1="556.3" x2="370.2" y2="544.4" stroke="#c6bcc4" stroke-width="0.75"/>
<line x1="370.2" y1="544.4" x2="381.8" y2="544.4" stroke="#c6bcc4" stroke-width="0.75"/>
<line x1="381.8" y1="544.4" x2="393.1" y2="544.4" stroke="#c6bcc4" stroke-width="0.75"/>

<ellipse cx="334.7" cy="527.0" rx="2.65" ry="2.35" fill="#e8e61e" stroke="#b8b000" stroke-width="0.5"/>
<rect x="343.85" y="524.65" width="5.30" height="4.70" fill="#1010c8"/>
<ellipse cx="334.7" cy="538.3" rx="2.65" ry="2.35" fill="#e8e61e" stroke="#b8b000" stroke-width="0.5"/>
<rect x="343.85" y="535.95" width="5.30" height="4.70" fill="#1010c8"/>
<ellipse cx="334.7" cy="550.3" rx="2.65" ry="2.35" fill="#e8e61e" stroke="#b8b000" stroke-width="0.5"/>
<rect x="343.85" y="547.95" width="5.30" height="4.70" fill="#1010c8"/>
<ellipse cx="334.7" cy="562.3" rx="2.65" ry="2.35" fill="#e8e61e" stroke="#b8b000" stroke-width="0.5"/>
<rect x="343.85" y="559.95" width="5.30" height="4.70" fill="#1010c8"/>
<ellipse cx="358.2" cy="532.9" rx="2.65" ry="2.35" fill="#2aa048" stroke="#107020" stroke-width="0.5"/>
<ellipse cx="358.2" cy="556.3" rx="2.65" ry="2.35" fill="#2aa048" stroke="#107020" stroke-width="0.5"/>
<ellipse cx="370.2" cy="544.4" rx="2.65" ry="2.35" fill="#2aa048" stroke="#107020" stroke-width="0.5"/>
<rect x="379.15" y="542.05" width="5.30" height="4.70" fill="#1010c8"/>
<rect x="390.45" y="542.05" width="5.30" height="4.70" fill="#1010c8"/>
<line x1="402.6" y1="497.9" x2="412.2" y2="497.9" stroke="#c6bcc4" stroke-width="0.75"/>
<line x1="402.6" y1="507.5" x2="412.2" y2="507.5" stroke="#c6bcc4" stroke-width="0.75"/>
<line x1="402.6" y1="516.9" x2="412.2" y2="516.9" stroke="#c6bcc4" stroke-width="0.75"/>
<line x1="402.6" y1="526.1" x2="412.2" y2="526.1" stroke="#c6bcc4" stroke-width="0.75"/>
<line x1="412.2" y1="497.9" x2="421.4" y2="502.6" stroke="#c6bcc4" stroke-width="0.75"/>
<line x1="412.2" y1="507.5" x2="421.4" y2="502.6" stroke="#c6bcc4" stroke-width="0.75"/>
<line x1="412.2" y1="516.9" x2="421.4" y2="521.7" stroke="#c6bcc4" stroke-width="0.75"/>
<line x1="412.2" y1="526.1" x2="421.4" y2="521.7" stroke="#c6bcc4" stroke-width="0.75"/>
<line x1="421.4" y1="502.6" x2="430.8" y2="512.2" stroke="#c6bcc4" stroke-width="0.75"/>
<line x1="421.4" y1="521.7" x2="430.8" y2="512.2" stroke="#c6bcc4" stroke-width="0.75"/>
<line x1="430.8" y1="512.2" x2="440.0" y2="512.2" stroke="#c6bcc4" stroke-width="0.75"/>
<line x1="440.0" y1="512.2" x2="449.2" y2="512.2" stroke="#c6bcc4" stroke-width="0.75"/>
<line x1="399.1" y1="496" x2="399.1" y2="527.8" stroke="#d4c498" stroke-width="0.7"/><line x1="389" y1="512.2" x2="399.1" y2="512.2" stroke="#c4c4dc" stroke-width="0.7"/>
<ellipse cx="402.6" cy="497.9" rx="2.39" ry="2.11" fill="#dede52" stroke="#c8c040" stroke-width="0.5"/>
<rect x="409.92" y="495.88" width="4.56" height="4.04" fill="#1414b4"/>
<ellipse cx="402.6" cy="507.5" rx="2.39" ry="2.11" fill="#dede52" stroke="#c8c040" stroke-width="0.5"/>
<rect x="409.92" y="505.48" width="4.56" height="4.04" fill="#1414b4"/>
<ellipse cx="402.6" cy="516.9" rx="2.39" ry="2.11" fill="#dede52" stroke="#c8c040" stroke-width="0.5"/>
<rect x="409.92" y="514.88" width="4.56" height="4.04" fill="#1414b4"/>
<ellipse cx="402.6" cy="526.1" rx="2.39" ry="2.11" fill="#dede52" stroke="#c8c040" stroke-width="0.5"/>
<rect x="409.92" y="524.08" width="4.56" height="4.04" fill="#1414b4"/>
<ellipse cx="421.4" cy="502.6" rx="2.39" ry="2.11" fill="#339455" stroke="#207a3a" stroke-width="0.5"/>
<ellipse cx="421.4" cy="521.7" rx="2.39" ry="2.11" fill="#339455" stroke="#207a3a" stroke-width="0.5"/>
<ellipse cx="430.8" cy="512.2" rx="2.39" ry="2.11" fill="#339455" stroke="#207a3a" stroke-width="0.5"/>
<rect x="437.72" y="510.18" width="4.56" height="4.04" fill="#1414b4"/>
<rect x="446.92" y="510.18" width="4.56" height="4.04" fill="#1414b4"/>
<polygon points="387.2,510.2 387.2,514.2 390.8,512.2" fill="#a83040"/>
<line x1="423.4" y1="443.6" x2="432.7" y2="443.6" stroke="#c6bcc4" stroke-width="0.75"/>
<line x1="423.4" y1="453.2" x2="432.7" y2="453.2" stroke="#c6bcc4" stroke-width="0.75"/>
<line x1="423.4" y1="462.5" x2="432.7" y2="462.5" stroke="#c6bcc4" stroke-width="0.75"/>
<line x1="423.4" y1="471.5" x2="432.7" y2="471.5" stroke="#c6bcc4" stroke-width="0.75"/>
<line x1="432.7" y1="443.6" x2="442.2" y2="448.4" stroke="#c6bcc4" stroke-width="0.75"/>
<line x1="432.7" y1="453.2" x2="442.2" y2="448.4" stroke="#c6bcc4" stroke-width="0.75"/>
<line x1="432.7" y1="462.5" x2="442.2" y2="466.9" stroke="#c6bcc4" stroke-width="0.75"/>
<line x1="432.7" y1="471.5" x2="442.2" y2="466.9" stroke="#c6bcc4" stroke-width="0.75"/>
<line x1="442.2" y1="448.4" x2="451.0" y2="457.7" stroke="#c6bcc4" stroke-width="0.75"/>
<line x1="442.2" y1="466.9" x2="451.0" y2="457.7" stroke="#c6bcc4" stroke-width="0.75"/>
<line x1="451.0" y1="457.7" x2="460.2" y2="457.7" stroke="#c6bcc4" stroke-width="0.75"/>
<line x1="460.2" y1="457.7" x2="469.6" y2="457.7" stroke="#c6bcc4" stroke-width="0.75"/>
<line x1="469.6" y1="457.7" x2="469.6" y2="447.8" stroke="#c6bcc4" stroke-width="0.75"/>
<line x1="419.9" y1="441" x2="419.9" y2="472.5" stroke="#d4c498" stroke-width="0.7"/><line x1="409.9" y1="457.7" x2="419.9" y2="457.7" stroke="#c4c4dc" stroke-width="0.7"/>
<ellipse cx="423.4" cy="443.6" rx="2.39" ry="2.11" fill="#dede52" stroke="#c8c040" stroke-width="0.5"/>
<rect x="430.42" y="441.58" width="4.56" height="4.04" fill="#1414b4"/>
<ellipse cx="423.4" cy="453.2" rx="2.39" ry="2.11" fill="#dede52" stroke="#c8c040" stroke-width="0.5"/>
<rect x="430.42" y="451.18" width="4.56" height="4.04" fill="#1414b4"/>
<ellipse cx="423.4" cy="462.5" rx="2.39" ry="2.11" fill="#dede52" stroke="#c8c040" stroke-width="0.5"/>
<rect x="430.42" y="460.48" width="4.56" height="4.04" fill="#1414b4"/>
<ellipse cx="423.4" cy="471.5" rx="2.39" ry="2.11" fill="#dede52" stroke="#c8c040" stroke-width="0.5"/>
<rect x="430.42" y="469.48" width="4.56" height="4.04" fill="#1414b4"/>
<ellipse cx="442.2" cy="448.4" rx="2.39" ry="2.11" fill="#339455" stroke="#207a3a" stroke-width="0.5"/>
<ellipse cx="442.2" cy="466.9" rx="2.39" ry="2.11" fill="#339455" stroke="#207a3a" stroke-width="0.5"/>
<ellipse cx="451.0" cy="457.7" rx="2.39" ry="2.11" fill="#339455" stroke="#207a3a" stroke-width="0.5"/>
<rect x="457.92" y="455.68" width="4.56" height="4.04" fill="#1414b4"/>
<rect x="467.32" y="455.68" width="4.56" height="4.04" fill="#1414b4"/>
<polygon points="408.1,455.7 408.1,459.7 411.7,457.7" fill="#a83040"/>
<polygon points="467.5,445.9 471.7,445.9 469.6,449.7" fill="#a83040"/>
<line x1="145.5" y1="496.8" x2="145.5" y2="558.9" stroke="#111" stroke-width="1.35"/><polygon points="145.5,564.9 142.3,558.1 148.7,558.1" fill="#0a0a0a"/>
<line x1="212.0" y1="570.6" x2="222.1" y2="580.7" stroke="#111" stroke-width="1.35"/><polygon points="226.3,585.0 219.2,582.4 223.8,577.9" fill="#0a0a0a"/>
<line x1="274.5" y1="462.8" x2="274.5" y2="558.7" stroke="#111" stroke-width="1.35"/><polygon points="274.5,564.7 271.3,557.9 277.7,557.9" fill="#0a0a0a"/>
<line x1="314.6" y1="516.0" x2="326.4" y2="571.3" stroke="#111" stroke-width="1.35"/><polygon points="327.6,577.2 323.1,571.2 329.3,569.9" fill="#0a0a0a"/>
<line x1="361.2" y1="562.5" x2="356.4" y2="576.3" stroke="#111" stroke-width="1.35"/><polygon points="354.4,582.0 353.6,574.5 359.7,576.6" fill="#0a0a0a"/>
<line x1="419.1" y1="538.3" x2="405.8" y2="559.8" stroke="#111" stroke-width="1.35"/><polygon points="402.6,564.9 403.5,557.4 408.9,560.8" fill="#0a0a0a"/>
<line x1="456.5" y1="476.0" x2="456.5" y2="572.5" stroke="#111" stroke-width="1.35"/><polygon points="456.5,578.5 453.3,571.7 459.7,571.7" fill="#0a0a0a"/>
<text transform="translate(234.0,677.9) scale(1.07,1)" font-size="23.4" style="font-family:'Liberation Serif',serif;stroke:none" fill="#000">Figure 3b</text>
</svg></body></html>
